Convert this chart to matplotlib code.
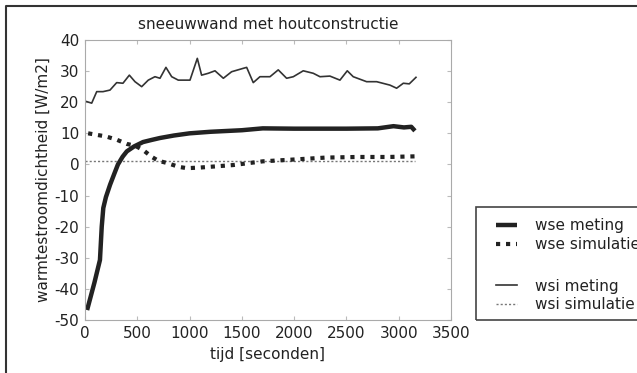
import matplotlib
matplotlib.use('Agg')
import matplotlib.pyplot as plt
from matplotlib.lines import Line2D
from matplotlib.patches import Rectangle

plt.rcParams['font.family'] = ['DejaVu Sans']
plt.rcParams['axes.unicode_minus'] = False

# wse meting (thick solid)
t_wse_m = [20, 90, 143, 160, 175, 200, 240, 280, 315, 360, 400, 470, 555, 640, 717, 850,
           1000, 1200, 1500, 1700, 2000, 2500, 2800, 2950, 3050, 3120, 3155]
v_wse_m = [-46.8, -38, -30.7, -20, -14, -10.5, -6.5, -3, 0, 2.5, 4.2, 5.8, 7.2, 7.9, 8.5, 9.3,
           10.0, 10.5, 11.0, 11.6, 11.5, 11.5, 11.6, 12.3, 11.9, 12.1, 10.8]

# wse simulatie (thick dotted)
t_wse_s = [30, 200, 300, 400, 480, 557, 640, 700, 780, 900, 975, 1100, 1415, 1700,
           2055, 2300, 2600, 2900, 3155]
v_wse_s = [10.0, 9.0, 8.0, 6.6, 6.0, 4.6, 2.4, 1.2, 0.5, -0.8, -1.2, -1.0, -0.2, 1.0,
           1.7, 2.2, 2.4, 2.4, 2.6]

# wsi meting (thin solid)
t_wsi_m = [16, 64, 112, 172, 239, 303, 363, 424, 478, 542, 605, 669, 717, 774, 829,
           892, 1004, 1074, 1115, 1179, 1243, 1323, 1402, 1514, 1546, 1609, 1673, 1769,
           1848, 1928, 1992, 2087, 2183, 2247, 2342, 2438, 2508, 2565, 2693, 2789, 2916,
           2980, 3044, 3101, 3165]
v_wsi_m = [20.2, 19.7, 23.4, 23.4, 23.9, 26.3, 26.1, 28.7, 26.6, 25.0, 27.1, 28.2, 27.7,
           31.2, 28.2, 27.1, 27.1, 34.1, 28.7, 29.3, 30.1, 27.7, 29.8, 30.9, 31.2, 26.3,
           28.2, 28.2, 30.4, 27.7, 28.2, 30.1, 29.3, 28.2, 28.4, 27.1, 30.1, 28.2, 26.6,
           26.6, 25.5, 24.5, 26.1, 25.9, 28.0]

# wsi simulatie (thin dotted)
t_wsi_s = [0, 3155]
v_wsi_s = [1.0, 1.0]

x_ticks = [0, 500, 1000, 1500, 2000, 2500, 3000, 3500]
y_ticks = [-50, -40, -30, -20, -10, 0, 10, 20, 30, 40]

ink = '#222222'
fs = 11
fig = plt.figure(figsize=(6.37, 3.73), dpi=100)
ax = fig.add_axes([85 / 637, 1 - 320 / 373, 366 / 637, 280 / 373])

l_wsi_s, = ax.plot(t_wsi_s, v_wsi_s, color='#777777', lw=1.0, ls=(0, (1.5, 1.5)))
l_wsi_m, = ax.plot(t_wsi_m, v_wsi_m, color='#333333', lw=1.2)
l_wse_s, = ax.plot(t_wse_s, v_wse_s, color=ink, lw=3.0, ls=(0, (1, 1.4)))
l_wse_m, = ax.plot(t_wse_m, v_wse_m, color=ink, lw=3.2, solid_capstyle='butt')

ax.set_xlim(0, 3500)
ax.set_ylim(-50, 40)
ax.set_xticks(x_ticks)
ax.set_yticks(y_ticks)
ax.tick_params(direction='in', length=3, color='#bbbbbb', labelsize=fs,
               labelcolor=ink, top=True, right=True, pad=4)
for s in ax.spines.values():
    s.set_color('#aaaaaa')
    s.set_linewidth(0.8)

ax.set_title('sneeuwwand met houtconstructie', fontsize=fs, color=ink, pad=8)
ax.set_xlabel('tijd [seconden]', fontsize=fs, color=ink, labelpad=5)
ax.set_ylabel('warmtestroomdichtheid [W/m2]', fontsize=fs, color=ink, labelpad=3)

# legend in two groups (wse / wsi) with a gap between them
leg_kw = dict(loc='upper left', fontsize=fs, frameon=False, handlelength=1.35,
              labelspacing=0.22, borderpad=0, handletextpad=1.2, borderaxespad=0,
              labelcolor=ink)
fig.legend([l_wse_m, l_wse_s], ['wse meting', 'wse simulatie'],
           bbox_to_anchor=(496 / 637, 1 - 218.5 / 373), **leg_kw)
fig.legend([l_wsi_m, l_wsi_s], ['wsi meting', 'wsi simulatie'],
           bbox_to_anchor=(496 / 637, 1 - 278.5 / 373), **leg_kw)

# legend box, running past the right edge as in the picture
fig.add_artist(Rectangle((476 / 637, 1 - 320 / 373), 200 / 637, 113 / 373,
                         transform=fig.transFigure, fill=False,
                         edgecolor='#444444', lw=1.2))

# outer frame of the picture (only top and left edges visible)
fig.add_artist(Line2D([6 / 637, 6 / 637, 1.01], [-0.01, 1 - 6 / 373, 1 - 6 / 373],
                      transform=fig.transFigure, color='#333333', lw=1.5))

fig.savefig('out.png', dpi=100)
